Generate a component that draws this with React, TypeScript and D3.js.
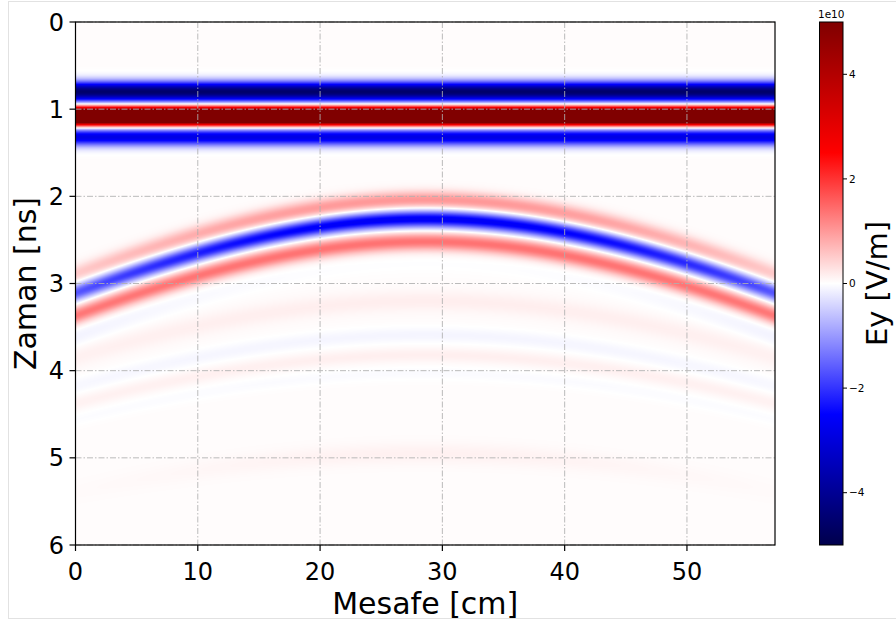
import React, { useEffect, useRef } from "react";
import * as d3 from "d3";

// axes
const distTicks = [0, 10, 20, 30, 40, 50];
const timeTicks = [0, 1, 2, 3, 4, 5, 6];
const cbarTicks = [-4, -2, 0, 2, 4];
const distRange = [0, 57.2];
const timeRange = [0, 6];
const fieldRange = [-5, 5]; // x 1e10 V/m

// seismic colormap stops
const cmapStops = [-5, -2.5, 0, 2.5, 5];
const cmapColors = ["#00004c", "#0000ff", "#ffffff", "#ff0000", "#800000"];

// direct wave (flat across the profile)
const directTime = [0.8, 1.08, 1.32];
const directAmp = [-4.6, 10, -2.9];
const directWidth = [0.11, 0.09, 0.1];

// main diffraction hyperbola
const hypApexX = 28.6;
const hypApexT = 2.26;
const hypK = 13.39; // cm of offset per ns of moveout
const hypLobeShift = [-0.22, 0, 0.26, 0.5];
const hypLobeAmpApex = [1.0, -2.7, 1.35, -0.04];
const hypLobeAmpEdge = [0.5, -1.7, 1.3, -0.15];
const hypLobeWidth = [0.1, 0.095, 0.1, 0.12];

// weak later events
const lateT0 = [3.2, 3.59, 3.82, 4.03, 4.95];
const lateAmp = [0.14, -0.13, 0.13, -0.07, 0.11];
const lateWidth = [0.12, 0.09, 0.08, 0.08, 0.12];
const lateAperture = [60, 60, 60, 60, 22];

const background = 0.03;

const W = 896;
const H = 625;
const left = 75.5;
const right = 775;
const top = 22;
const bottom = 545;
const cbLeft = 819.5;
const cbRight = 843;
const font = "DejaVu Sans";

const g = (d: number, w: number) => Math.exp(-(d / w) * (d / w));

function fieldAt(x: number, t: number) {
  let v = background;
  for (let i = 0; i < directTime.length; i++) {
    v += directAmp[i] * g(t - directTime[i], directWidth[i]);
  }
  const dx = x - hypApexX;
  const tc = Math.sqrt(hypApexT * hypApexT + (dx / hypK) * (dx / hypK));
  const r = Math.min(1, (dx / hypApexX) * (dx / hypApexX));
  for (let i = 0; i < hypLobeShift.length; i++) {
    const a = hypLobeAmpApex[i] + (hypLobeAmpEdge[i] - hypLobeAmpApex[i]) * r;
    v += a * g(t - tc - hypLobeShift[i], hypLobeWidth[i]);
  }
  for (let i = 0; i < lateT0.length; i++) {
    const tl = Math.sqrt(lateT0[i] * lateT0[i] + (dx / hypK) * (dx / hypK));
    v += lateAmp[i] * g(dx, lateAperture[i]) * g(t - tl, lateWidth[i]);
  }
  return v;
}

const App = () => {
  const ref = useRef<SVGSVGElement | null>(null);

  useEffect(() => {
    const svg = d3.select(ref.current);
    svg.selectAll("*").remove();

    const xScale = d3.scaleLinear().domain(distRange).range([left, right]);
    const yScale = d3.scaleLinear().domain(timeRange).range([top, bottom]);
    const cScale = d3.scaleLinear().domain(fieldRange).range([bottom, top]);
    const color = d3
      .scaleLinear<string>()
      .domain(cmapStops)
      .range(cmapColors)
      .clamp(true);

    // colour lookup table
    const lutN = 1001;
    const lut = d3.range(lutN).map((i) => {
      const c = d3.rgb(color(fieldRange[0] + (i / (lutN - 1)) * (fieldRange[1] - fieldRange[0])));
      return [c.r, c.g, c.b];
    });

    // render the field into a canvas
    const cw = Math.round(right - left);
    const ch = Math.round(bottom - top);
    const canvas = document.createElement("canvas");
    canvas.width = cw;
    canvas.height = ch;
    const ctx = canvas.getContext("2d")!;
    const img = ctx.createImageData(cw, ch);
    for (let j = 0; j < ch; j++) {
      const t = yScale.invert(top + j + 0.5);
      for (let i = 0; i < cw; i++) {
        const x = xScale.invert(left + i + 0.5);
        const v = fieldAt(x, t);
        let k = Math.round(((v - fieldRange[0]) / (fieldRange[1] - fieldRange[0])) * (lutN - 1));
        k = Math.max(0, Math.min(lutN - 1, k));
        const p = (j * cw + i) * 4;
        img.data[p] = lut[k][0];
        img.data[p + 1] = lut[k][1];
        img.data[p + 2] = lut[k][2];
        img.data[p + 3] = 255;
      }
    }
    ctx.putImageData(img, 0, 0);

    // figure frame
    svg
      .append("rect")
      .attr("x", 8.5)
      .attr("y", 1.5)
      .attr("width", W)
      .attr("height", 617)
      .attr("fill", "white")
      .attr("stroke", "#e2e2e2");

    svg
      .append("image")
      .attr("x", left)
      .attr("y", top)
      .attr("width", right - left)
      .attr("height", bottom - top)
      .attr("preserveAspectRatio", "none")
      .attr("href", canvas.toDataURL());

    // grid
    const grid = svg.append("g").attr("stroke", "#b0b0b0").attr("stroke-width", 1).attr("stroke-dasharray", "6,2,1.5,2").attr("opacity", 0.85);
    distTicks.forEach((d) => {
      grid.append("line").attr("x1", xScale(d)).attr("x2", xScale(d)).attr("y1", top).attr("y2", bottom);
    });
    timeTicks.forEach((d) => {
      grid.append("line").attr("x1", left).attr("x2", right).attr("y1", yScale(d)).attr("y2", yScale(d));
    });

    // frame of the axes
    svg
      .append("rect")
      .attr("x", left)
      .attr("y", top)
      .attr("width", right - left)
      .attr("height", bottom - top)
      .attr("fill", "none")
      .attr("stroke", "black")
      .attr("stroke-width", 1.2);

    // x axis
    distTicks.forEach((d) => {
      svg.append("line").attr("x1", xScale(d)).attr("x2", xScale(d)).attr("y1", bottom).attr("y2", bottom + 6).attr("stroke", "black").attr("stroke-width", 1.2);
      svg
        .append("text")
        .attr("x", xScale(d))
        .attr("y", 580)
        .attr("text-anchor", "middle")
        .attr("font-family", font)
        .attr("font-size", 24)
        .text(d);
    });

    // y axis
    timeTicks.forEach((d) => {
      svg.append("line").attr("x1", left - 6).attr("x2", left).attr("y1", yScale(d)).attr("y2", yScale(d)).attr("stroke", "black").attr("stroke-width", 1.2);
      svg
        .append("text")
        .attr("x", 64)
        .attr("y", yScale(d))
        .attr("dy", "0.36em")
        .attr("text-anchor", "end")
        .attr("font-family", font)
        .attr("font-size", 24)
        .text(d);
    });

    svg
      .append("text")
      .attr("x", (left + right) / 2)
      .attr("y", 614)
      .attr("text-anchor", "middle")
      .attr("font-family", font)
      .attr("font-size", 30)
      .text("Mesafe [cm]");

    svg
      .append("text")
      .attr("transform", `translate(36, ${(top + bottom) / 2}) rotate(-90)`)
      .attr("text-anchor", "middle")
      .attr("font-family", font)
      .attr("font-size", 30)
      .text("Zaman [ns]");

    // colorbar
    const grad = svg
      .append("defs")
      .append("linearGradient")
      .attr("id", "cbar")
      .attr("x1", 0)
      .attr("x2", 0)
      .attr("y1", 1)
      .attr("y2", 0);
    cmapStops.forEach((s, i) => {
      grad
        .append("stop")
        .attr("offset", (s - fieldRange[0]) / (fieldRange[1] - fieldRange[0]))
        .attr("stop-color", cmapColors[i]);
    });
    svg
      .append("rect")
      .attr("x", cbLeft)
      .attr("y", top)
      .attr("width", cbRight - cbLeft)
      .attr("height", bottom - top)
      .attr("fill", "url(#cbar)")
      .attr("stroke", "black")
      .attr("stroke-width", 1);

    cbarTicks.forEach((d) => {
      svg.append("line").attr("x1", cbRight).attr("x2", cbRight + 4).attr("y1", cScale(d)).attr("y2", cScale(d)).attr("stroke", "black");
      svg
        .append("text")
        .attr("x", cbRight + 6)
        .attr("y", cScale(d))
        .attr("dy", "0.36em")
        .attr("font-family", font)
        .attr("font-size", 10.5)
        .text(d < 0 ? `\u2212${-d}` : `${d}`);
    });

    svg
      .append("text")
      .attr("x", (cbLeft + cbRight) / 2)
      .attr("y", 18)
      .attr("text-anchor", "middle")
      .attr("font-family", font)
      .attr("font-size", 10.5)
      .text("1e10");

    svg
      .append("text")
      .attr("transform", `translate(887, ${(top + bottom) / 2}) rotate(-90)`)
      .attr("text-anchor", "middle")
      .attr("font-family", font)
      .attr("font-size", 29)
      .text("Ey [V/m]");
  }, []);

  return (
    <svg
      ref={ref}
      width={W}
      height={H}
      style={{ position: "absolute", left: 0, top: 0, background: "white" }}
    />
  );
};

export default App;
